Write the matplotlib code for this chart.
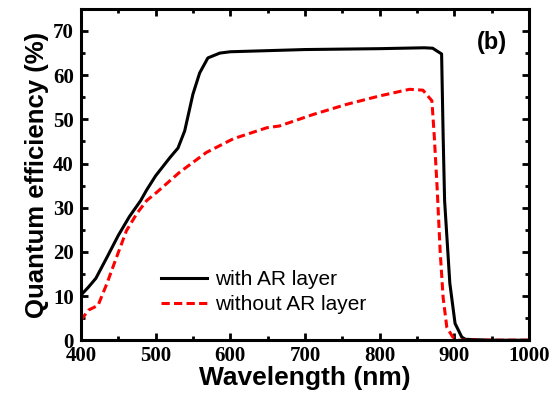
import matplotlib
matplotlib.use("agg")
import matplotlib.pyplot as plt
from matplotlib.ticker import MultipleLocator

# with AR layer
wl_ar = [400, 410, 420, 435, 450, 465, 480, 488, 500, 519, 530, 539, 550, 559,
         570, 586, 600, 700, 800, 860, 871, 883, 885, 887, 894, 901, 910, 915, 950, 1000]
qe_ar = [10.2, 12.0, 14.0, 18.8, 23.7, 28.0, 31.6, 34.0, 37.2, 41.3, 43.5, 47.4, 55.7, 60.5,
         63.9, 65.0, 65.3, 65.8, 66.0, 66.2, 66.1, 64.8, 46.7, 31.6, 12.9, 3.8, 0.7, 0.2, 0.0, 0.0]

# without AR layer
wl_noar = [400, 410, 423, 435, 446, 461, 475, 488, 501, 532, 568, 604, 649, 666, 711,
           756, 800, 840, 858, 870, 873, 877, 881, 885, 890, 898, 905, 950, 1000]
qe_noar = [4.5, 6.8, 7.9, 12.9, 18.0, 24.8, 28.7, 31.6, 33.4, 38.0, 42.5, 45.6, 48.1, 48.5, 51.1,
           53.4, 55.3, 56.8, 56.6, 54.2, 46.7, 34.5, 20.3, 9.7, 2.9, 0.7, 0.0, 0.0, 0.0]

fig = plt.figure(figsize=(5.58, 4.05), dpi=100)
ax = fig.add_axes([0.145, 0.160, 0.803, 0.818])

ax.plot(wl_ar, qe_ar, color='black', linewidth=2.2, label='with AR layer')
ax.plot(wl_noar, qe_noar, color='red', linewidth=2.2, linestyle=(0, (2.7, 1.4)),
        label='without AR layer')

ax.set_xlim(400, 1000)
ax.set_ylim(0, 75)
ax.xaxis.set_major_locator(MultipleLocator(100))
ax.xaxis.set_minor_locator(MultipleLocator(50))
ax.yaxis.set_major_locator(MultipleLocator(10))
ax.yaxis.set_minor_locator(MultipleLocator(5))
ax.tick_params(which='both', direction='in', top=True, right=True, width=2)
ax.tick_params(which='major', length=5, pad=5)
ax.tick_params(axis='x', which='major', pad=4)
ax.tick_params(which='minor', length=3)
for s in ax.spines.values():
    s.set_linewidth(2.2)

for lab in ax.get_xticklabels() + ax.get_yticklabels():
    lab.set_fontfamily('Liberation Serif')
    lab.set_fontweight('bold')
    lab.set_fontsize(15)

ax.set_xlabel('Wavelength (nm)', fontfamily='Liberation Sans', fontweight='bold',
              fontsize=19, labelpad=0)
ax.set_ylabel('Quantum efficiency (%)', fontfamily='Liberation Sans', fontweight='bold',
              fontsize=18.5, labelpad=3)

ax.text(950, 67.5, '(b)', fontfamily='Liberation Sans', fontweight='bold', fontsize=17,
        ha='center', va='center')

ax.legend(loc='lower left', bbox_to_anchor=(0.137, 0.022), frameon=False,
          prop={'family': 'Liberation Sans', 'size': 15}, handlelength=2.2,
          handletextpad=0.4, labelspacing=0.3)

plt.savefig('out.png', dpi=100)
